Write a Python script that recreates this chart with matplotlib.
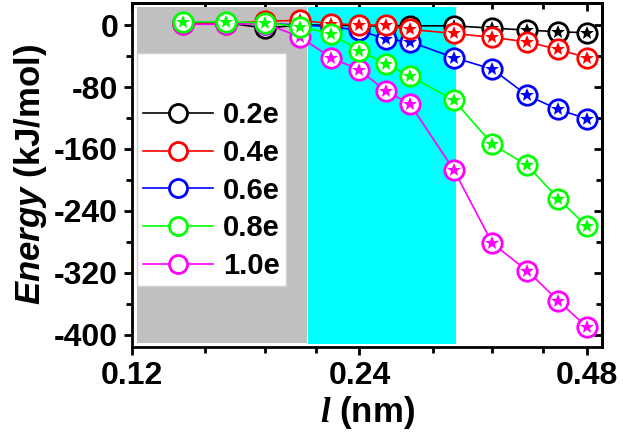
import numpy as np
import matplotlib
matplotlib.use('Agg')
import matplotlib.pyplot as plt

plt.rcParams['font.family'] = ['Liberation Sans', 'DejaVu Sans']
plt.rcParams['font.weight'] = 'bold'
plt.rcParams['axes.labelweight'] = 'bold'
plt.rcParams['axes.unicode_minus'] = False
plt.rcParams['mathtext.fontset'] = 'custom'
plt.rcParams['mathtext.bfit'] = 'Liberation Sans:bold:italic'
plt.rcParams['mathtext.it'] = 'Liberation Serif:bold:italic'
plt.rcParams['mathtext.bf'] = 'Liberation Sans:bold'
plt.rcParams['mathtext.rm'] = 'Liberation Sans'

# distancia l (nm)
l_nm = [0.14, 0.16, 0.18, 0.20, 0.22, 0.24, 0.26, 0.28, 0.32, 0.36, 0.40, 0.44, 0.48]

# energia (kJ/mol) para cada carga
e_02 = [3, 3, -4, 0, 0, -1, -1, -1, -1, -4, -6.5, -8.6, -10]
e_04 = [2, 2, 5, 6, 2, 0, 0, -5.6, -10.8, -16, -21.6, -31.5, -42]
e_06 = [3, 3, 2, 0, -2, -7, -18, -21.6, -42, -57, -90.6, -109, -121]
e_08 = [4, 4, 3, -2, -11, -33, -50, -66, -97, -154, -181, -224, -260]
e_10 = [1, 1, 2, -15, -42, -58, -85, -102, -187, -282, -317, -356, -390]

etiquetas = ['0.2e', '0.4e', '0.6e', '0.8e', '1.0e']
colores = ['black', '#ff0000', '#0000ff', '#00ff00', '#ff00ff']
series = [e_02, e_04, e_06, e_08, e_10]
orden_z = [3, 5, 4, 7, 6]

# zonas sombreadas: (x inicio, x fin, y abajo, y arriba)
zona_gris = (0.1218, 0.2047, -410, 23)
zona_cian = (0.2054, 0.3225, -412, 23)

fig = plt.figure(figsize=(6.23, 4.34), dpi=100)
ax = fig.add_axes([0.212, 0.200, 0.754, 0.794])

for zona, c in [(zona_gris, '#c0c0c0'), (zona_cian, '#00ffff')]:
    ax.fill_between([zona[0], zona[1]], zona[2], zona[3], color=c, lw=0, zorder=1)

lineas = []
for y, c, lab, z in zip(series, colores, etiquetas, orden_z):
    ln, = ax.plot(l_nm, y, '-o', color=c, lw=1.2, ms=14, mfc='white', mec=c,
                  mew=2, label=lab, zorder=z)
    ax.plot(l_nm, y, '*', color=c, ms=10.5, mew=0, zorder=z + 0.5)
    lineas.append(ln)

ax.set_xscale('log')
ax.set_xlim(0.12, 0.5025)
ax.set_ylim(-416, 29)

ax.set_xticks([0.12, 0.24, 0.48])
ax.set_xticklabels(['0.12', '0.24', '0.48'])
ax.set_xticks([0.15, 0.18, 0.21, 0.30, 0.36, 0.42], minor=True)
ax.xaxis.set_minor_formatter(plt.NullFormatter())
ax.set_yticks(np.arange(-400, 1, 80))
ax.set_yticks(np.arange(-400, 1, 40), minor=True)

ax.tick_params(which='major', direction='out', length=6, width=2, labelsize=23, pad=4)
ax.tick_params(which='minor', direction='out', length=4, width=2)
for s in ax.spines.values():
    s.set_linewidth(2)

# ticks hacia dentro arriba y a la derecha
ax_top = ax.secondary_xaxis('top')
ax_top.set_xticks([0.12, 0.24, 0.48])
ax_top.set_xticks([0.15, 0.18, 0.21, 0.30, 0.36, 0.42], minor=True)
ax_top.tick_params(which='both', direction='in', width=2, labeltop=False)
ax_top.tick_params(which='major', length=6)
ax_top.tick_params(which='minor', length=4)
ax_top.spines['top'].set_linewidth(2)
ax_right = ax.secondary_yaxis('right')
ax_right.set_yticks(np.arange(-400, 1, 80))
ax_right.set_yticks(np.arange(-400, 1, 40), minor=True)
ax_right.tick_params(which='both', direction='in', width=2, labelright=False)
ax_right.tick_params(which='major', length=6)
ax_right.tick_params(which='minor', length=4)
ax_right.spines['right'].set_linewidth(2)

ax.set_xlabel(r'$\mathit{l}$ (nm)', fontsize=25, fontweight='bold', labelpad=2)
ax.set_ylabel(r'$\mathbfit{Energy}$ (kJ/mol)', fontsize=25, fontweight='bold', labelpad=4)

leg = ax.legend(handles=lineas, loc='upper left', bbox_to_anchor=(0.011, 0.854),
                borderaxespad=0, fontsize=21, handlelength=2.4, handletextpad=0.35,
                labelspacing=0.33, frameon=True, fancybox=False, framealpha=1,
                edgecolor='#d0d0d0', title=' ', title_fontsize=25, borderpad=0.2)
leg.get_frame().set_linewidth(1)
leg.set_zorder(10)
for h in leg.legend_handles:
    h.set_markersize(13)

fig.savefig('out.png', dpi=100)
